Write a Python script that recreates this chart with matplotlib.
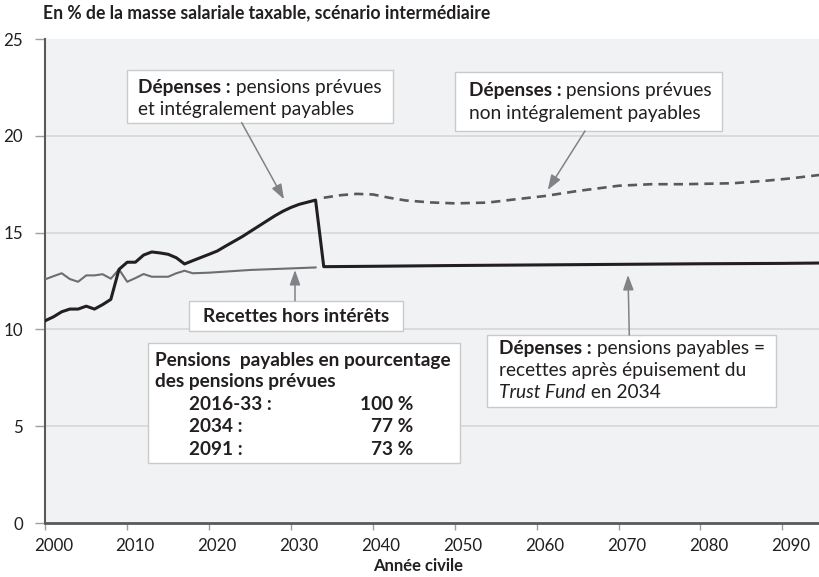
import numpy as np
import matplotlib.pyplot as plt
from matplotlib.patches import Rectangle
import matplotlib.transforms as mtransforms

plt.rcParams['font.family'] = ['Lato', 'DejaVu Sans']

# recettes hors intérêts, 2000-2033
rec_years = [2000, 2001, 2002, 2003, 2004, 2005, 2006, 2007, 2008, 2009, 2010, 2011,
             2012, 2013, 2014, 2015, 2016, 2017, 2018, 2020, 2025, 2030, 2033]
rec_vals = [12.59, 12.75, 12.9, 12.6, 12.46, 12.79, 12.79, 12.85, 12.62, 13.1, 12.46, 12.65,
            12.86, 12.72, 12.72, 12.72, 12.9, 13.03, 12.9, 12.93, 13.07, 13.15, 13.2]

# dépenses : pensions prévues et payables jusqu'en 2033, puis pensions payables
dep_years = [2000, 2001, 2002, 2003, 2004, 2005, 2006, 2007, 2008, 2009, 2010, 2011, 2012,
             2013, 2014, 2015, 2016, 2017, 2018, 2020, 2021, 2022, 2024, 2026, 2028, 2029,
             2030, 2031, 2033,
             2034, 2040, 2050, 2060, 2070, 2080, 2090, 2095]
dep_vals = [10.45, 10.65, 10.91, 11.05, 11.05, 11.2, 11.05, 11.28, 11.55, 13.1, 13.47, 13.47, 13.84,
            14.0, 13.95, 13.88, 13.7, 13.38, 13.55, 13.88, 14.05, 14.3, 14.78, 15.32, 15.86, 16.1,
            16.3, 16.46, 16.68,
            13.24, 13.26, 13.3, 13.33, 13.36, 13.39, 13.41, 13.43]

# dépenses : pensions prévues non intégralement payables, 2034-2095
prev_years = [2034, 2036, 2038, 2040, 2042, 2044, 2047, 2050, 2054, 2057, 2061, 2065,
              2070, 2074, 2078, 2084, 2088, 2091, 2095]
prev_vals = [16.8, 16.93, 17.0, 16.97, 16.8, 16.66, 16.56, 16.51, 16.55, 16.7, 16.89, 17.15,
             17.42, 17.5, 17.5, 17.55, 17.68, 17.8, 18.0]

xticks = [2000, 2010, 2020, 2030, 2040, 2050, 2060, 2070, 2080, 2090]
yticks = [0, 5, 10, 15, 20, 25]

fig = plt.figure(figsize=(8.2, 5.77), dpi=100)
renderer = fig.canvas.get_renderer()


def fit(s, target, **kw):
    # taille de police qui donne la largeur (px) mesurée sur l'original
    t = fig.text(0, 0, s, size=10, **kw)
    w = t.get_window_extent(renderer).width
    t.remove()
    return 10 * target / w


fs_reg = fit('et intégralement payables', 217)
fs_bold = fit('Pensions  payables en pourcentage', 297, weight='bold')
fs_title = fit('En % de la masse salariale taxable, scénario intermédiaire', 449, weight='bold')
fs_xlab = fit('Année civile', 91, weight='bold')
fs_tick = fit('2000', 39)

ax = fig.add_axes([45.3/820, 54/577, 774.7/820, 484/577])
ax.set_facecolor('#f1f2f4')
ax.set_xlim(2000, 2000 + 774.7/8.19)
ax.set_ylim(0, 25)

for v in yticks[1:-1]:
    ax.axhline(v, color='#d6d7d9', lw=1.2, zorder=1)

ax.plot(rec_years, rec_vals, color='#6d6e71', lw=1.5, zorder=3)
ax.plot(dep_years, dep_vals, color='#231f20', lw=2.2, zorder=3)
ax.plot(prev_years, prev_vals, color='#58595b', lw=1.9, dashes=(3.5, 2.3), zorder=3)

for s in ['top', 'right']:
    ax.spines[s].set_visible(False)
ax.spines['left'].set_color('#58595b')
ax.spines['left'].set_linewidth(1.5)
ax.spines['bottom'].set_color('#58595b')
ax.spines['bottom'].set_linewidth(2)

ax.set_yticks(yticks)
ax.set_xticks(xticks)
ax.tick_params(axis='y', length=7, width=1, color='#9c9ea1', pad=9, labelsize=fs_tick, labelcolor='#231f20')
ax.tick_params(axis='x', length=5, width=1, color='#9c9ea1', pad=6, labelsize=fs_tick, labelcolor='#231f20')
off = mtransforms.ScaledTranslation(8/100, 0, fig.dpi_scale_trans)
for lab in ax.get_xticklabels():
    lab.set_transform(lab.get_transform() + off)

fig.text(43/820, 1 - 13/577, 'En % de la masse salariale taxable, scénario intermédiaire',
         weight='bold', size=fs_title, va='center', color='#231f20')
fig.text(418/820, 1 - 566/577, 'Année civile', weight='bold', size=fs_xlab, ha='center', va='center',
         color='#231f20')


def px(x, y):
    return (2000 + (x - 45.3) / 8.19, (523 - y) / 19.36)


def box(x0, y0, x1, y1):
    ax.add_patch(Rectangle(px(x0, y1), (x1 - x0) / 8.19, (y1 - y0) / 19.36,
                           fc='white', ec='#c9cacc', lw=1, zorder=4))


def arrow(x0, y0, x1, y1):
    ax.annotate('', xy=px(x1, y1), xytext=px(x0, y0),
                arrowprops=dict(arrowstyle='-|>,head_length=0.9,head_width=0.32',
                                color='#808285', lw=1.1, shrinkA=0, shrinkB=0), zorder=5)


col = '#231f20'


def line(x, y, s, weight='normal', **kw):
    size = fs_bold if weight == 'bold' else fs_reg
    return ax.text(*px(x, y), s, size=size, weight=weight, color=col, va='baseline', zorder=6, **kw)


def after(t, s, **kw):
    return ax.annotate(s, xy=(1, 0), xycoords=t, size=fs_reg, color=col, va='bottom', zorder=6, **kw)


# boîte 1
box(127.3, 70, 393.3, 122.7)
t = line(138.5, 93.5, 'Dépenses :', weight='bold')
after(t, ' pensions prévues')
line(138.5, 115.5, 'et intégralement payables')
arrow(241.7, 122.7, 284, 199.3)

# boîte 2
box(455, 72, 722.3, 131)
t = line(468.5, 96, 'Dépenses :', weight='bold')
after(t, ' pensions prévues')
line(468.5, 118.5, 'non intégralement payables')
arrow(585, 131, 547.7, 190)

# boîte 3
box(189.3, 300.7, 403.3, 330.7)
ax.text(*px(296.3, 316.5), 'Recettes hors intérêts', size=fs_bold, color=col, weight='bold',
        ha='center', va='center', zorder=6)
arrow(295, 300.7, 295, 270)

# boîte 4
box(148.3, 342.7, 460, 463.3)
line(155, 366, 'Pensions  payables en pourcentage', weight='bold')
line(155, 387, 'des pensions prévues', weight='bold')
rows = [('2016-33 :', '100 %'), ('2034 :', '77 %'), ('2091 :', '73 %')]
for (a, b), yy in zip(rows, [409.5, 432.5, 455]):
    line(189.3, yy, a, weight='bold')
    line(413.5, yy, b, weight='bold', ha='right')

# boîte 5
box(486.7, 335, 776, 407.3)
t = line(499.3, 354, 'Dépenses :', weight='bold')
after(t, ' pensions payables =')
line(499.3, 376, 'recettes après épuisement du')
t = line(499.3, 398.5, 'Trust Fund', style='italic')
after(t, ' en 2034')
arrow(629.3, 335, 628, 275)

fig.savefig('out.png', dpi=100)
